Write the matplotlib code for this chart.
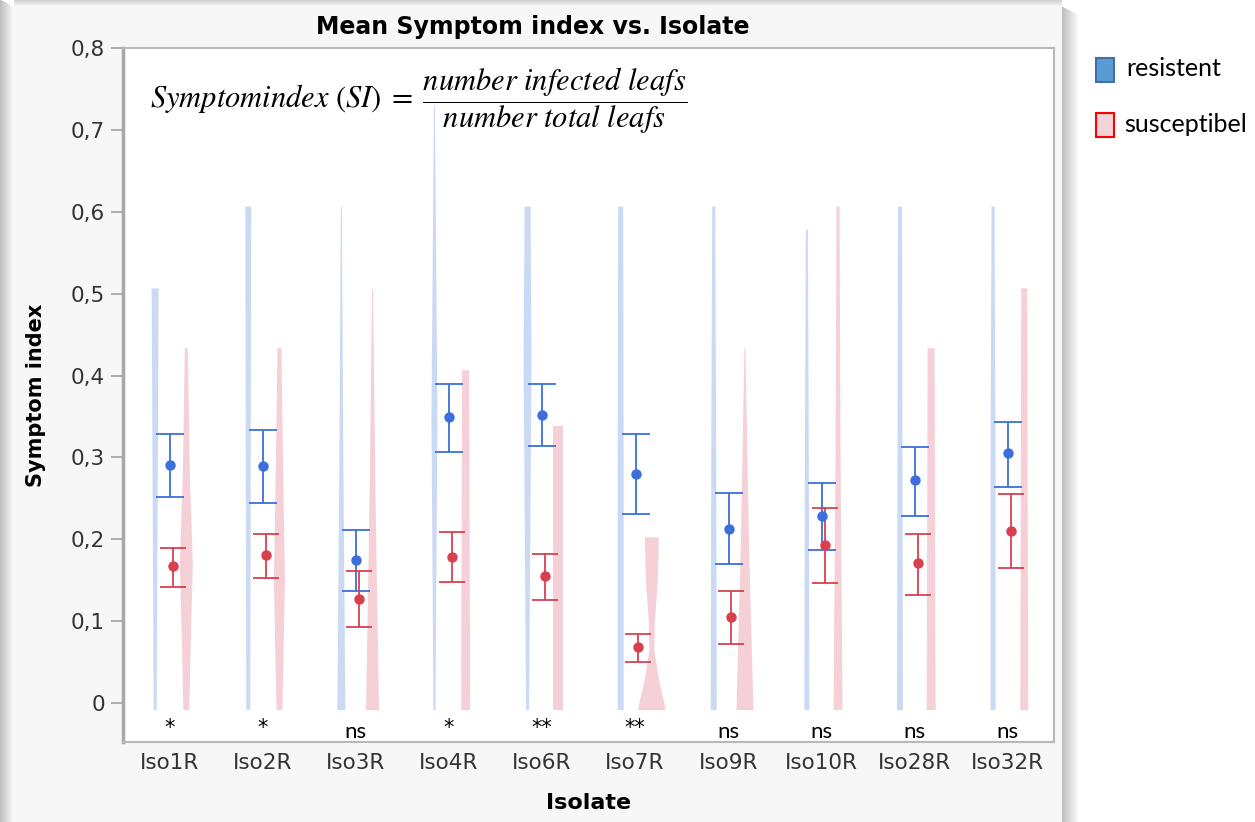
import numpy as np
import matplotlib.pyplot as plt
from matplotlib.patches import Rectangle

# Isolater og signifikans
isolates = ['Iso1R', 'Iso2R', 'Iso3R', 'Iso4R', 'Iso6R', 'Iso7R', 'Iso9R', 'Iso10R', 'Iso28R', 'Iso32R']
sig = ['*', '*', 'ns', '*', '**', '**', 'ns', 'ns', 'ns', 'ns']

# Gjennomsnitt og feilstolper - resistent
res_mean = [0.291, 0.289, 0.175, 0.349, 0.352, 0.280, 0.213, 0.228, 0.272, 0.305]
res_lo = [0.252, 0.244, 0.137, 0.307, 0.314, 0.231, 0.170, 0.187, 0.228, 0.264]
res_hi = [0.329, 0.333, 0.211, 0.390, 0.390, 0.329, 0.256, 0.269, 0.313, 0.343]

# Gjennomsnitt og feilstolper - susceptibel
sus_mean = [0.167, 0.181, 0.127, 0.178, 0.155, 0.068, 0.105, 0.193, 0.171, 0.210]
sus_lo = [0.142, 0.153, 0.093, 0.148, 0.126, 0.050, 0.072, 0.147, 0.132, 0.165]
sus_hi = [0.189, 0.206, 0.161, 0.209, 0.182, 0.084, 0.137, 0.238, 0.206, 0.255]

# Fordelingsformer (verdi, relativ bredde)
res_shape = [
    [(-0.008, 3), (0.25, 5), (0.507, 7)],
    [(-0.008, 4), (0.30, 5), (0.607, 6)],
    [(-0.008, 8), (0.30, 4), (0.607, 1)],
    [(-0.008, 2), (0.35, 6), (0.73, 1)],
    [(-0.008, 3), (0.42, 8), (0.607, 6)],
    [(-0.008, 6), (0.30, 6), (0.607, 5)],
    [(-0.008, 6), (0.30, 5), (0.607, 3)],
    [(-0.008, 5), (0.30, 4), (0.579, 2)],
    [(-0.008, 6), (0.30, 5), (0.607, 4)],
    [(-0.008, 5), (0.30, 5), (0.607, 3)],
]
sus_shape = [
    [(-0.008, 6), (0.08, 9), (0.17, 13), (0.28, 7), (0.434, 3)],
    [(-0.008, 6), (0.15, 11), (0.30, 7), (0.434, 4)],
    [(-0.008, 13), (0.25, 6), (0.506, 1)],
    [(-0.008, 9), (0.20, 8), (0.407, 7)],
    [(-0.008, 10), (0.338, 10)],
    [(-0.008, 28), (0.03, 14), (0.065, 5), (0.10, 6), (0.15, 12), (0.203, 14)],
    [(-0.008, 17), (0.20, 8), (0.434, 1)],
    [(-0.008, 9), (0.30, 5), (0.607, 3)],
    [(-0.008, 9), (0.20, 8), (0.434, 7)],
    [(-0.008, 8), (0.25, 7), (0.507, 6)],
]

blue = '#3b6fdb'
red = '#d8404f'
blue_fill = '#cbdaf4'
red_fill = '#f5d0d6'

W, H = 1255, 822
fig = plt.figure(figsize=(W / 100, H / 100), dpi=100)

# Bakgrunn: grått panel med skygge
bg = fig.add_axes([0, 0, 1, 1], zorder=-10)
bg.set_xlim(0, W)
bg.set_ylim(H, 0)
bg.axis('off')
for i in range(14):
    a = 0.05 + 0.035 * (13 - i)
    bg.add_patch(Rectangle((i, i * 0.5), 1, H, color='#808080', alpha=a, lw=0))
for i in range(16):
    a = 0.05 + 0.03 * (15 - i)
    bg.add_patch(Rectangle((1062 + i, 7 + i * 0.5), 1, H, color='#808080', alpha=a, lw=0))
for i in range(7):
    a = 0.05 + 0.05 * (6 - i)
    bg.add_patch(Rectangle((14, i), 1048, 1, color='#808080', alpha=a, lw=0))
bg.add_patch(Rectangle((14, 7), 1048, H, color='#f7f7f7', lw=0))

ax = fig.add_axes([123 / W, 80 / H, 931 / W, 694 / H])
ax.set_facecolor('white')

x = np.arange(len(isolates))
px = 1 / 93.1  # en piksel i kategorienheter

for i in range(len(isolates)):
    ys, ws = zip(*res_shape[i])
    ws = np.array(ws) * px / 2
    ax.fill_betweenx(ys, x[i] - 0.16 - ws, x[i] - 0.16 + ws, color=blue_fill, lw=0, zorder=1)
    ys, ws = zip(*sus_shape[i])
    ws = np.array(ws) * px / 2
    ax.fill_betweenx(ys, x[i] + 0.175 - ws, x[i] + 0.175 + ws, color=red_fill, lw=0, zorder=1)

res_err = [np.array(res_mean) - np.array(res_lo), np.array(res_hi) - np.array(res_mean)]
sus_err = [np.array(sus_mean) - np.array(sus_lo), np.array(sus_hi) - np.array(sus_mean)]
ax.errorbar(x + 0.005, res_mean, yerr=res_err, fmt='o', color=blue, ms=6.5,
            elinewidth=1.3, capsize=10, capthick=1.3, zorder=3)
ax.errorbar(x + 0.035, sus_mean, yerr=sus_err, fmt='o', color=red, ms=6.5,
            elinewidth=1.3, capsize=9.5, capthick=1.3, zorder=3)

for i, s in enumerate(sig):
    if s == 'ns':
        ax.text(x[i], -0.043, s, ha='center', va='baseline', fontsize=16, family='Lato')
    else:
        ax.text(x[i], -0.038, s, ha='center', va='baseline', fontsize=15)

ax.set_xlim(-0.5, 9.5)
ax.set_ylim(-0.0476, 0.8)
ax.set_yticks(np.arange(0, 0.81, 0.1))
ax.set_yticklabels(['0'] + [f'0,{k}' for k in range(1, 9)])
ax.set_xticks(x)
ax.set_xticklabels(isolates)
ax.tick_params(axis='y', length=9, width=1.2, color='#a0a0a0', labelsize=15.5,
               labelcolor='#333333', pad=4)
ax.tick_params(axis='x', length=0, labelsize=15.5, labelcolor='#333333', pad=8)
for sp in ax.spines.values():
    sp.set_color('#b8b8b8')
    sp.set_linewidth(1.5)
ax.spines['left'].set_color('#a8a8a8')
ax.spines['left'].set_linewidth(2.5)

ax.set_xlabel('Isolate', fontsize=16, fontweight='bold', labelpad=14)
ax.set_ylabel('Symptom index', fontsize=15, fontweight='bold', labelpad=18)
fig.text(533 / W, 1 - 27 / H, 'Mean Symptom index vs. Isolate', ha='center', va='center',
         fontsize=17, fontweight='bold')

# Formel for symptomindeks
plt.rcParams['mathtext.fontset'] = 'stix'
fig.text(150 / W, 1 - 101 / H,
         r'$Symptomindex\ (SI)\;=\;\dfrac{number\ infected\ leafs}{number\ total\ leafs}$',
         ha='left', va='center', fontsize=22)

# Forklaring
fig.patches.append(Rectangle((1096 / W, 1 - 82 / H), 18 / W, 24 / H, transform=fig.transFigure,
                             facecolor='#5b9bd5', edgecolor='#41719c', lw=1.5))
fig.patches.append(Rectangle((1096 / W, 1 - 137 / H), 18 / W, 24 / H, transform=fig.transFigure,
                             facecolor='#f4d3d8', edgecolor='#ff0000', lw=1.5))
fig.text(1126 / W, 1 - 69 / H, 'resistent', va='center', fontsize=18, family='Lato')
fig.text(1124 / W, 1 - 124 / H, 'susceptibel', va='center', fontsize=18, family='Lato')

fig.savefig('out.png', dpi=100)
